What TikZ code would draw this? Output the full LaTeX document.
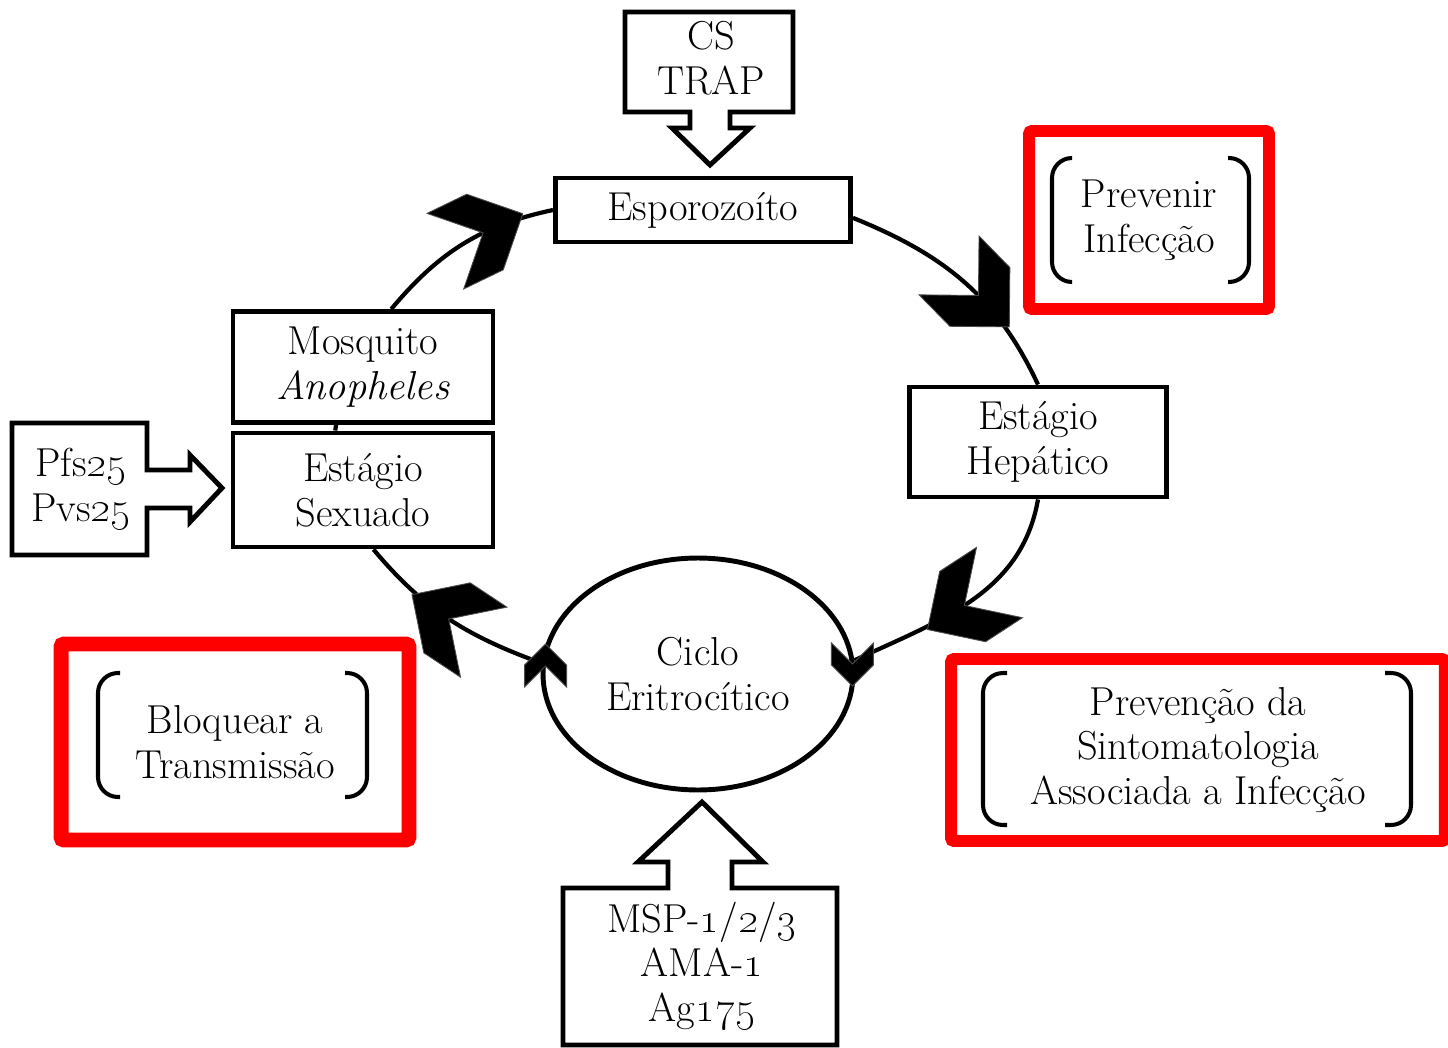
\documentclass[tikz,border=0pt]{standalone}
\usetikzlibrary{shapes.geometric,decorations.markings}

\newcommand{\chevron}{\fill[chevfill] (44,0) -- (2,42) -- (-42,42) -- (0,0) -- (-42,-42) -- (2,-42) -- cycle;}

\tikzset{
  txt/.style={align=center, font=\fontsize{23}{25.5}\selectfont, inner sep=0pt},
  box/.style={txt, draw, line width=2.8pt, fill=white},
  cyc/.style={line width=2.4pt},
  chevfill/.style={fill=black, draw=black!70, line width=0.5pt},
  chevat/.style={postaction={decorate}, decoration={markings, mark=at position #1 with {\chevron}}},
  redbox/.style={txt, draw=red, rounded corners=0.06cm},
  brk/.style={line width=2.3pt, rounded corners=0.4cm},
  callout/.style={line width=2.8pt, line join=miter, fill=white},
}

\begin{document}
\begin{tikzpicture}[x=0.02cm, y=-0.02cm]
  \useasboundingbox (0,0) rectangle (1448,1048);

  % stages
  \node[box, minimum width=5.9cm, minimum height=1.28cm] (espo) at (703,210) {Esporozoíto};
  \node[box, minimum width=5.14cm, minimum height=2.2cm] (hep) at (1038,442) {Estágio\\Hepático};
  \node[box, minimum width=5.2cm, minimum height=2.22cm] (mosq) at (363,367) {Mosquito\\\textit{Anopheles}};
  \node[box, minimum width=5.2cm, minimum height=2.28cm] (sex) at (363,490) {Estágio\\Sexuado};
  \node[box, ellipse, minimum width=6.2cm, minimum height=4.64cm] (ciclo) at (698,674) {Ciclo\\Eritrocítico};

  % cycle
  \draw[cyc, chevat=0.62] (mosq.64) to[out=50, in=192] (espo.west);
  \draw[cyc, chevat=0.58] (espo.-3) to[out=-22, in=115] (hep.north);
  \draw[cyc, chevat=0.52] (hep.south) to[out=-100, in=25] (ciclo.5);
  \draw[cyc, chevat=0.5] (ciclo.176) to[out=160, in=-50] (sex.-80);
  \draw[cyc] (mosq.-115) -- (sex.115);
  \begin{scope}[shift={([xshift=-0.06cm, yshift=0.2cm]ciclo.east)}, rotate=-90, scale=0.5]
    \chevron
  \end{scope}
  \begin{scope}[shift={([xshift=0.1cm, yshift=0.16cm]ciclo.west)}, rotate=90, scale=0.5]
    \chevron
  \end{scope}

  % antigens
  \draw[callout] (625,12) -- (793,12) -- (793,112) -- (730,112) -- (730,128) -- (750,128)
    -- (710,165) -- (672,128) -- (690,128) -- (690,112) -- (625,112) -- cycle;
  \node[txt] (cs) at (711,58) {CS\\TRAP};
  \draw[callout] (12,423) -- (147,423) -- (147,470) -- (190,470) -- (190,455) -- (222,488)
    -- (190,522) -- (190,508) -- (147,508) -- (147,555) -- (12,555) -- cycle;
  \node[txt] (pfs) at (81,489) {Pfs\oldstylenums{25}\\Pvs\oldstylenums{25}};
  \draw[callout] (563,1045) -- (563,888) -- (668,888) -- (668,862) -- (638,862) -- (702,802)
    -- (763,862) -- (732,862) -- (732,888) -- (837,888) -- (837,1045) -- cycle;
  \node[txt] (msp) at (702,966)
    {MSP-\oldstylenums{1}/\oldstylenums{2}/\oldstylenums{3}\\AMA-\oldstylenums{1}\\Ag\oldstylenums{175}};

  % goals
  \node[redbox, line width=6.8pt, minimum width=4.8cm, minimum height=3.56cm] (prev) at (1149,220) {Prevenir\\Infecção};
  \draw[brk] (1072,158) -- (1052,158) -- (1052,282) -- (1072,282);
  \draw[brk] (1228,158) -- (1249,158) -- (1249,282) -- (1228,282);
  \node[redbox, line width=8.5pt, minimum width=6.96cm, minimum height=3.92cm] (bloq) at (235,742) {Bloquear a\\Transmissão};
  \draw[brk] (120,673) -- (98,673) -- (98,797) -- (120,797);
  \draw[brk] (345,673) -- (367,673) -- (367,797) -- (345,797);
  \node[redbox, line width=6.8pt, minimum width=9.88cm, minimum height=3.64cm] (sint) at (1198,750)
    {Prevenção da\\Sintomatologia\\Associada a Infecção};
  \draw[brk] (1007,673) -- (983,673) -- (983,825) -- (1007,825);
  \draw[brk] (1385,673) -- (1411,673) -- (1411,825) -- (1385,825);
\end{tikzpicture}
\end{document}
